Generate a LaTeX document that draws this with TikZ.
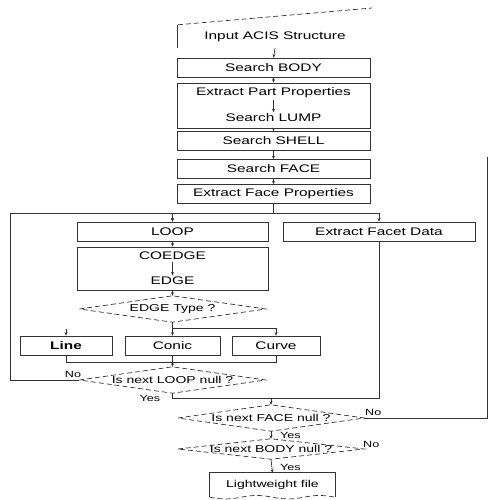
\documentclass[tikz,border=0pt]{standalone}
\usepackage{fontspec}
\setmainfont[FakeStretch=1.4]{Liberation Sans}
\usetikzlibrary{arrows.meta}
\begin{document}
\begin{tikzpicture}[x=1pt,y=-1pt,
  ln/.style={line width=0.7pt, draw=black!80},
  box/.style={ln, rectangle, minimum height=19pt, inner sep=0pt, font=\fontsize{11}{13}\selectfont},
  txt/.style={inner sep=0pt, font=\fontsize{11}{13}\selectfont},
  dia/.style={rectangle, minimum width=186pt, minimum height=26pt, inner sep=0pt, font=\fontsize{10}{12}\selectfont},
  dline/.style={ln, dash pattern=on 5pt off 3pt},
  arr/.style={ln, -{Stealth[length=3.5pt,width=3pt]}},
  inarr/.style={arr, shorten <=1.5pt, shorten >=1.5pt},
  lbl/.style={inner sep=1pt, font=\fontsize{9}{10}\selectfont}]
\useasboundingbox (0,0) rectangle (494,500);

% Input ACIS Structure (manual input shape)
\node[txt, minimum width=194pt, minimum height=23pt] (inp) at (275,36.5) {Input ACIS Structure};
\coordinate (inpTR) at (372,8);
\draw[ln] (inp.north west) -- (inp.south west);
\draw[dline] (inp.north west) -- (inpTR);

\node[box, minimum width=193pt] (body) at (273.5,67.5) {Search BODY};
\node[box, minimum width=193pt, minimum height=45pt] (plbox) at (273.5,105.5) {};
\node[txt] (part) at (273.5,93) {Extract Part Properties};
\node[txt] (lump) at (273.5,118) {Search LUMP};
\node[box, minimum width=193pt] (shell) at (273.5,141) {Search SHELL};
\node[box, minimum width=193pt] (face) at (273.5,169) {Search FACE};
\node[box, minimum width=193pt] (fprop) at (273.5,194) {Extract Face Properties};

\draw[arr] (inp.south) -- (body.north);
\draw[arr] (body.south) -- (plbox.north);
\draw[inarr] (part) -- (lump);
\draw[arr] (plbox.south) -- (shell.north);
\draw[arr] (shell.south) -- (face.north);
\draw[arr] (face.south) -- (fprop.north);

% second level
\node[box, minimum width=191pt] (loop) at (172.5,231.5) {LOOP};
\node[box, minimum width=192pt] (facet) at (379,231.5) {Extract Facet Data};
\coordinate (j1) at (273.5,213);
\coordinate (cL) at (10,213);
\draw[ln] (fprop.south) -- (j1);
\draw[arr] (j1) -| (loop.north);
\draw[arr] (j1) -| (facet.north);

\node[box, minimum width=191pt, minimum height=43pt] (cebox) at (172.5,268.5) {};
\node[txt] (coedge) at (172.5,256) {COEDGE};
\node[txt] (edge) at (172.5,281) {EDGE};
\draw[arr] (loop.south) -- (cebox.north);
\draw[inarr] (coedge) -- (edge);

% EDGE type
\node[dia] (etype) at (172.5,309) {EDGE Type ?};
\draw[dline] (etype.west) -- (etype.north) -- (etype.east) -- (etype.south) -- cycle;
\draw[arr] (cebox.south) -- (etype.north);

\node[box, minimum width=92pt, font=\fontsize{11}{13}\selectfont\bfseries] (line) at (66,345.5) {Line};
\node[box, minimum width=95pt] (conic) at (172.5,345.5) {Conic};
\node[box, minimum width=88pt] (curve) at (276,345.5) {Curve};
\coordinate (j2) at (172.5,328);
\coordinate (lineIn) at (66,329);
\draw[ln] (etype.south) -- (j2);
\draw[arr] (j2) -- (conic.north);
\draw[arr] (j2) -| (curve.north);
\draw[arr] (lineIn) -- (line.north);

% Is next LOOP null
\node[dia] (lq) at (172.5,380) {Is next LOOP null ?};
\draw[dline] (lq.west) -- (lq.north) -- (lq.east) -- (lq.south) -- cycle;
\coordinate (j3) at (66,362);
\coordinate (j3r) at (276,362);
\draw[ln] (line.south) -- (j3) -- (j3r) -- (curve.south);
\draw[arr] (conic.south) -- (lq.north);
\draw[arr] (lq.west) -| (cL) -| (loop.north);
\node[lbl, anchor=south] at (73,379) {No};

% Is next FACE null
\node[dia] (fq) at (271,418) {Is next FACE null ?};
\draw[dline] (fq.west) -- (fq.north) -- (fq.east) -- (fq.south) -- cycle;
\coordinate (j4) at (172.5,398);
\coordinate (j4m) at (271,398);
\draw[ln] (lq.south) -- (j4) -- (facet.south |- j4) -- (facet.south);
\draw[arr] (j4m) -- (fq.north);
\node[lbl] at (150,398) {Yes};
\coordinate (fqR) at (487,418);
\coordinate (fqTop) at (487,157);
\draw[ln] (fq.east) -- (fqR) -- (fqTop);
\node[lbl, anchor=south west] at (364,417) {No};

% Is next BODY null
\node[dia, minimum height=20pt] (bq) at (271,449) {Is next BODY null ?};
\draw[dline] (bq.west) -- (bq.north) -- (bq.east) -- (bq.south) -- cycle;
\draw[arr] (fq.south) -- (bq.north);
\node[lbl, anchor=west] at (279,435) {Yes};
\node[lbl, anchor=south west] at (362,449) {No};

% Lightweight file (document shape)
\node[txt, minimum width=125pt, minimum height=24pt, font=\fontsize{10}{12}\selectfont] (lw) at (272.5,485) {Lightweight file};
\draw[ln] (lw.south west) -- (lw.north west) -- (lw.north east) -- (lw.south east);
\draw[dline] (lw.south west) .. controls +(30,6) and +(-30,-6) .. (lw.south) .. controls +(30,6) and +(-30,-6) .. (lw.south east);
\draw[arr] (bq.south) -- (lw.north);
\node[lbl, anchor=west] at (279,467) {Yes};
\end{tikzpicture}
\end{document}
